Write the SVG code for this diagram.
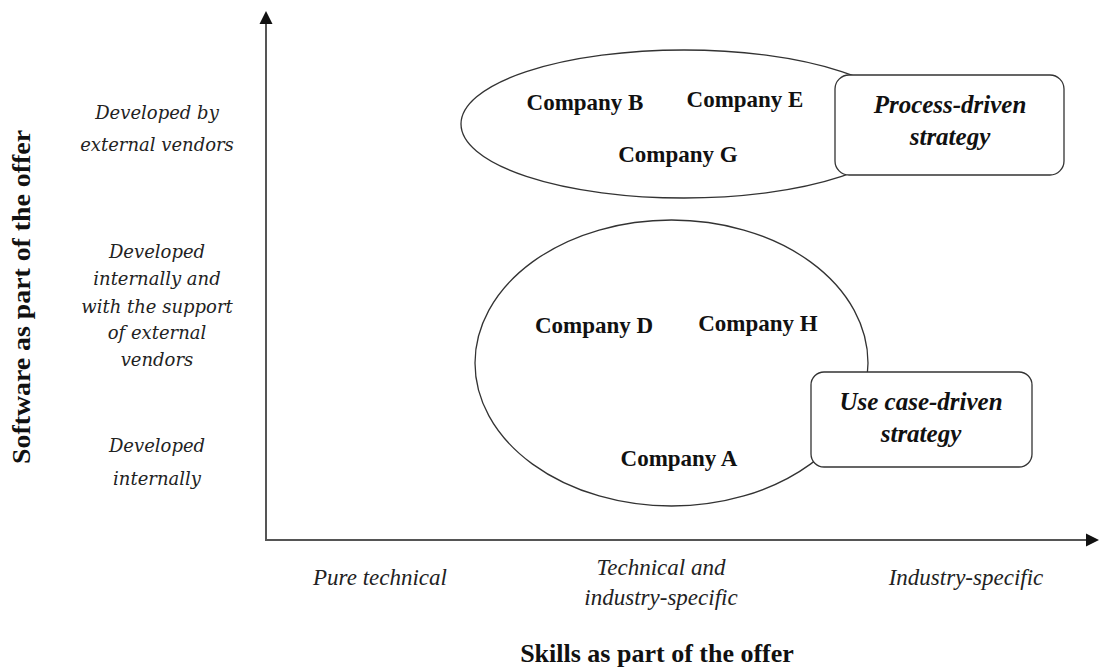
<svg xmlns="http://www.w3.org/2000/svg" width="1099" height="668" viewBox="0 0 1099 668">
<style>
.co{font-family:"Liberation Serif",serif;font-weight:bold;font-size:23px;fill:#111;text-anchor:middle}
.st{font-family:"Liberation Serif",serif;font-weight:bold;font-style:italic;font-size:25px;fill:#111;text-anchor:middle}
.yl{font-family:"DejaVu Serif",serif;font-style:italic;font-size:18px;fill:#222;text-anchor:middle}
.xl{font-family:"Liberation Serif",serif;font-style:italic;font-size:23px;fill:#222;text-anchor:middle}
.ax{font-family:"Liberation Serif",serif;font-weight:bold;font-size:26px;fill:#111;text-anchor:middle}
.shape{fill:#fff;stroke:#333;stroke-width:1.3}
.axis{stroke:#555;stroke-width:2;fill:none}
.head{fill:#111}
</style>
<rect width="1099" height="668" fill="#fff"/>
<g id="connectors">
<line class="axis" x1="266" y1="541" x2="266" y2="22"/>
<polygon class="head" points="266,11 259.5,24 272.5,24"/>
<line class="axis" x1="265" y1="540" x2="1088" y2="540"/>
<polygon class="head" points="1099,540 1086,533.5 1086,546.5"/>
</g>
<g id="cluster-top">
<ellipse class="shape" cx="684" cy="124" rx="223" ry="74"/>
</g>
<g id="cluster-bottom">
<ellipse class="shape" cx="671.5" cy="363" rx="196.5" ry="143"/>
</g>
<g id="process-driven">
<rect class="shape" x="835" y="75" width="229" height="100" rx="14"/>
<text class="st" x="950" y="113">Process-driven</text>
<text class="st" x="950" y="145">strategy</text>
</g>
<g id="use-case-driven">
<rect class="shape" x="811" y="372" width="221" height="95" rx="13"/>
<text class="st" x="921" y="410">Use case-driven</text>
<text class="st" x="921" y="442">strategy</text>
</g>
<g id="company-b"><text class="co" x="585" y="110">Company B</text></g>
<g id="company-e"><text class="co" x="745" y="107">Company E</text></g>
<g id="company-g"><text class="co" x="678" y="162">Company G</text></g>
<g id="company-d"><text class="co" x="594" y="333">Company D</text></g>
<g id="company-h"><text class="co" x="758" y="331">Company H</text></g>
<g id="company-a"><text class="co" x="679" y="466">Company A</text></g>
<g id="y-labels">
<text class="yl" x="157" y="119">Developed by</text>
<text class="yl" x="157" y="151">external vendors</text>
<text class="yl" x="157" y="258">Developed</text>
<text class="yl" x="157" y="285">internally and</text>
<text class="yl" x="157" y="313">with the support</text>
<text class="yl" x="157" y="339">of external</text>
<text class="yl" x="157" y="366">vendors</text>
<text class="yl" x="157" y="452">Developed</text>
<text class="yl" x="157" y="485">internally</text>
</g>
<g id="x-labels">
<text class="xl" x="380" y="585">Pure technical</text>
<text class="xl" x="661" y="575">Technical and</text>
<text class="xl" x="661" y="605">industry-specific</text>
<text class="xl" x="966" y="585">Industry-specific</text>
</g>
<text class="ax" x="657" y="662">Skills as part of the offer</text>
<text class="ax" transform="translate(30,297) rotate(-90)" textLength="334" lengthAdjust="spacingAndGlyphs">Software as part of the offer</text>
</svg>
